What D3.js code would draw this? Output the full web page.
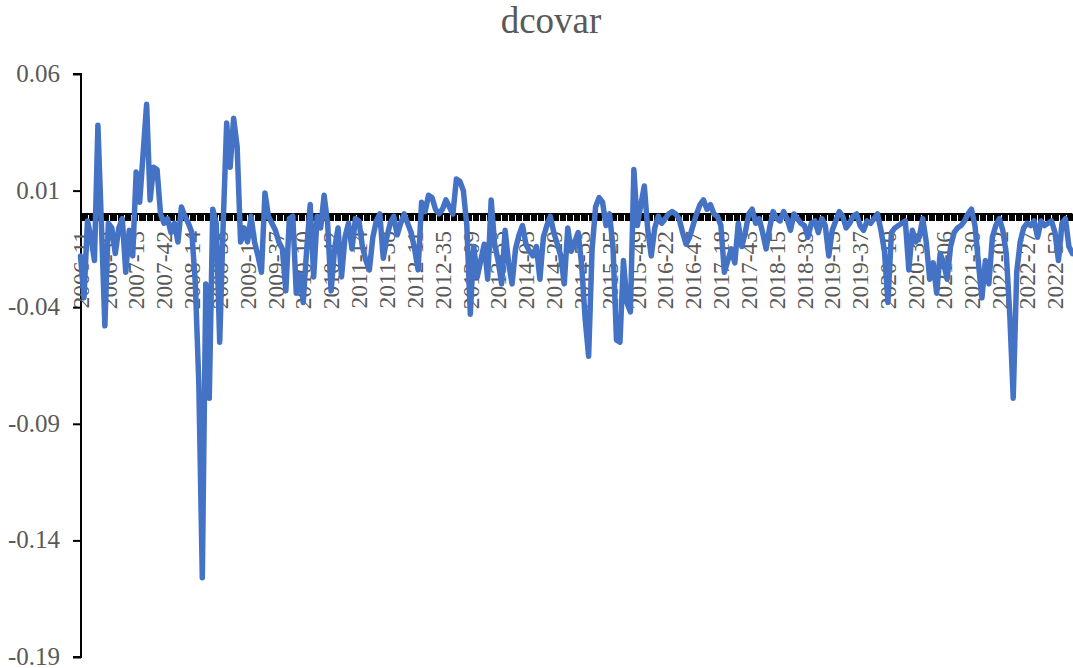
<!DOCTYPE html>
<html>
<head>
<meta charset="utf-8">
<script src="https://cdn.jsdelivr.net/npm/d3@7"></script>
<style>
  html, body { margin: 0; padding: 0; background: #fff; }
  svg { display: block; }
</style>
</head>
<body>
<svg id="chart" width="1073" height="668"></svg>
<script>
// ---------- data ----------
const title = "dcovar";

// x-axis category labels shown (every 8th data point)
const xLabels = ["2006-11","2006-39","2007-13","2007-42","2008-14","2008-38","2009-12","2009-37",
  "2010-10","2010-42","2011-14","2011-38","2012-11","2012-35","2013-09","2013-33","2014-05",
  "2014-29","2014-53","2015-25","2015-49","2016-22","2016-47","2017-18","2017-43","2018-15",
  "2018-39","2019-13","2019-37","2020-10","2020-34","2021-06","2021-30","2022-02","2022-27","2022-52"];
const labelEvery = 8;

const yTickLabels = ["0.06","0.01","-0.04","-0.09","-0.14","-0.19"];

// dcovar series
const dcovar = [
  -0.018,-0.036,-0.003,-0.010,-0.020,0.038,-0.004,-0.048,-0.004,-0.006,
  -0.017,-0.006,-0.002,-0.025,-0.007,-0.018,0.018,0.005,0.026,0.047,
  0.006,0.020,0.019,0.000,-0.004,-0.002,-0.008,-0.004,-0.012,0.003,
  -0.001,-0.004,-0.008,-0.030,-0.073,-0.156,-0.030,-0.079,0.002,-0.004,
  -0.055,-0.004,0.039,0.020,0.041,0.029,-0.012,-0.006,-0.012,-0.001,
  -0.012,-0.018,-0.025,0.009,-0.001,-0.004,-0.007,-0.012,-0.015,-0.033,
  -0.002,-0.001,-0.034,-0.026,-0.038,-0.015,0.004,-0.027,-0.001,-0.006,
  0.008,-0.004,-0.033,-0.015,-0.006,-0.027,-0.010,-0.004,-0.015,-0.002,
  -0.003,-0.014,-0.020,-0.024,-0.010,-0.003,0.000,-0.019,-0.010,-0.004,
  -0.001,-0.009,-0.004,0.000,-0.004,-0.008,-0.015,-0.024,0.005,0.001,
  0.008,0.007,0.002,0.000,0.002,0.006,0.003,0.000,0.015,0.014,
  0.010,-0.005,-0.043,-0.014,-0.027,-0.020,-0.013,-0.028,0.006,-0.013,
  -0.020,-0.030,-0.007,-0.021,-0.030,-0.015,-0.009,-0.005,-0.013,-0.016,
  -0.018,-0.014,-0.028,-0.010,-0.005,-0.001,-0.008,-0.013,-0.018,-0.030,
  -0.006,-0.016,-0.012,-0.008,-0.022,-0.045,-0.061,-0.015,0.003,0.007,
  0.005,-0.005,0.000,-0.014,-0.054,-0.055,-0.020,-0.038,-0.042,0.019,
  -0.005,0.004,0.012,-0.007,-0.018,-0.006,-0.001,-0.004,-0.002,0.000,
  0.001,0.000,-0.002,-0.008,-0.013,-0.010,-0.005,0.000,0.004,0.006,
  0.002,0.004,0.000,-0.001,-0.005,-0.025,-0.020,-0.015,-0.021,-0.004,
  -0.014,-0.008,0.000,0.002,-0.004,-0.002,-0.008,-0.015,-0.006,0.001,
  -0.002,-0.003,0.001,-0.002,-0.007,0.000,-0.002,-0.004,-0.005,-0.010,
  -0.004,-0.003,-0.008,-0.002,-0.005,-0.018,-0.007,-0.003,0.001,-0.001,
  -0.006,-0.004,-0.001,0.000,-0.005,-0.007,-0.003,-0.004,-0.002,0.000,
  -0.007,-0.016,-0.038,-0.008,-0.006,-0.005,-0.004,-0.003,-0.024,-0.007,
  -0.012,-0.010,-0.002,-0.012,-0.028,-0.021,-0.034,-0.017,-0.021,-0.028,
  -0.014,-0.008,-0.006,-0.005,-0.003,0.000,0.002,-0.005,-0.021,-0.036,
  -0.020,-0.030,-0.010,-0.005,-0.002,-0.007,-0.017,-0.043,-0.079,-0.025,
  -0.012,-0.006,-0.004,-0.005,-0.003,-0.010,-0.003,-0.005,-0.004,-0.003,
  -0.008,-0.020,-0.004,-0.002,-0.014,-0.017
];

// ---------- layout ----------
const svg = d3.select("#chart");
const plotLeft = 81, plotRight = 1072.4, plotTop = 74, plotBottom = 657;
const textColor = "#595959";
const fontFam = "'Liberation Serif','Times New Roman',serif";

const x = d3.scaleLinear().domain([0, dcovar.length - 1]).range([plotLeft - 0.5, plotRight]);
const yVals = yTickLabels.map(Number);
const y = d3.scaleLinear().domain([d3.min(yVals), d3.max(yVals)]).range([plotBottom, plotTop]);

// title
svg.append("text")
  .attr("x", 551).attr("y", 33)
  .attr("text-anchor", "middle")
  .attr("font-family", fontFam).attr("font-size", 37)
  .attr("fill", textColor)
  .text(title);

// y axis
const yAxis = svg.append("g")
  .attr("transform", `translate(${plotLeft},0)`)
  .call(d3.axisLeft(y).tickValues(yVals).tickSize(8).tickPadding(13)
        .tickFormat((d, i) => yTickLabels[i]));
yAxis.select(".domain").attr("stroke", "#000").attr("stroke-width", 2)
  .attr("d", `M-8,${y(yVals[0])}H0V${y(yVals[yVals.length-1])}H-8`);
yAxis.selectAll(".tick line").attr("stroke", "#000").attr("stroke-width", 2);
yAxis.selectAll(".tick text")
  .attr("font-family", fontFam).attr("font-size", 25).attr("fill", textColor)
  .attr("dy", "0.3em");

// x axis at zero with dense tick marks
const denseTicks = d3.range(0, dcovar.length - 1 + 1e-6, 1 / 3);
const xAxis = svg.append("g")
  .attr("transform", `translate(0,${y(0)})`)
  .call(d3.axisBottom(x).tickValues(denseTicks).tickSize(7).tickFormat(""));
xAxis.select(".domain").attr("stroke", "#000").attr("stroke-width", 2)
  .attr("d", `M${x(0)},0H${x(dcovar.length - 1)}`);
xAxis.selectAll(".tick line").attr("stroke", "#000").attr("stroke-width", 1)
  .attr("shape-rendering", "crispEdges");

// rotated category labels
svg.append("g").selectAll("text")
  .data(xLabels)
  .join("text")
  .attr("transform", (d, i) => `translate(${x(i * labelEvery)},${y(0) + 17}) rotate(-90)`)
  .attr("text-anchor", "end")
  .attr("dy", "0.35em")
  .attr("font-family", fontFam).attr("font-size", 23.5)
  .attr("fill", textColor)
  .text(d => d);

// series line
svg.append("path")
  .datum(dcovar)
  .attr("fill", "none")
  .attr("stroke", "#4472C4")
  .attr("stroke-width", 5.5)
  .attr("stroke-linejoin", "round")
  .attr("stroke-linecap", "round")
  .attr("d", d3.line().x((d, i) => x(i)).y(d => y(d)));
</script>
</body>
</html>
